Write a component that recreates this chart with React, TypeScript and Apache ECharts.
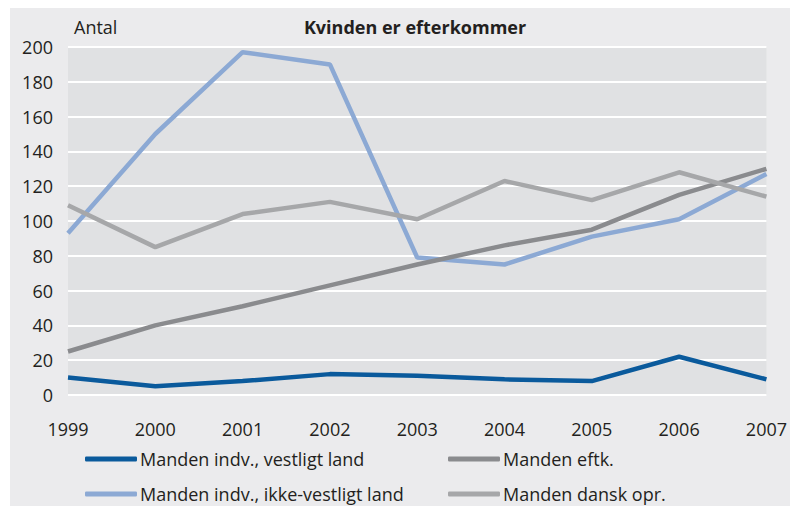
import React, { useEffect, useRef } from "react";
import * as echarts from "echarts";

const years = ["1999", "2000", "2001", "2002", "2003", "2004", "2005", "2006", "2007"];
const seriesNames = [
  "Manden indv., vestligt land",
  "Manden indv., ikke-vestligt land",
  "Manden eftk.",
  "Manden dansk opr.",
];
const vestligt = [10, 5, 8, 12, 11, 9, 8, 22, 9];
const ikkeVestligt = [93, 150, 197, 190, 79, 75, 91, 101, 127];
const efterkommer = [25, 40, 51, 63, 75, 86, 95, 115, 130];
const danskOpr = [109, 85, 104, 111, 101, 123, 112, 128, 114];
const colors = ["#0a5a9c", "#8ca9d4", "#8a8b8e", "#a6a7a9"];

const FONT = "Open Sans";
const TXT = "#231f20";
const FS = 18;

export default function App() {
  const ref = useRef<HTMLDivElement>(null);
  useEffect(() => {
    if (!ref.current) return;
    const chart = echarts.init(ref.current, undefined, { renderer: "svg" });
    const values = [vestligt, ikkeVestligt, efterkommer, danskOpr];
    const legendBase = {
      orient: "vertical" as const,
      top: 448,
      height: 80,
      padding: 0,
      itemWidth: 52,
      itemHeight: 5,
      itemGap: 13,
      icon: "roundRect",
      textStyle: { fontFamily: FONT, fontSize: FS, color: TXT, lineHeight: 22, padding: [0, 0, 0, -2] },
    };
    chart.setOption({
      animation: false,
      backgroundColor: "transparent",
      graphic: [
        { type: "rect", left: 10, top: 8, z: -10, shape: { width: 780, height: 498 }, style: { fill: "#ebebed" } },
        {
          type: "text",
          left: 74,
          top: 18,
          style: { text: "Antal", fontFamily: FONT, fontSize: FS, fill: TXT },
        },
      ],
      title: {
        text: "Kvinden er efterkommer",
        left: 410,
        textAlign: "center",
        top: 13,
        textStyle: { fontFamily: FONT, fontSize: FS, fontWeight: "bold", color: TXT },
      },
      grid: { left: 68, right: 23, top: 47, bottom: 111, show: true, backgroundColor: "#e0e1e3", borderWidth: 0 },
      legend: [
        { ...legendBase, left: 85, data: [seriesNames[0], seriesNames[1]] },
        { ...legendBase, left: 448, data: [seriesNames[2], seriesNames[3]] },
      ],
      xAxis: {
        type: "category",
        data: years,
        boundaryGap: false,
        axisLine: { show: false },
        axisTick: { show: false },
        axisLabel: { margin: 25, fontFamily: FONT, fontSize: FS, color: TXT },
      },
      yAxis: {
        type: "value",
        min: 0,
        max: 200,
        interval: 20,
        axisLine: { show: false },
        axisTick: { show: false },
        splitLine: { lineStyle: { color: "#ffffff", width: 2 } },
        axisLabel: { margin: 15, fontFamily: FONT, fontSize: FS, color: TXT },
      },
      series: seriesNames.map((name, i) => ({
        name,
        type: "line",
        data: values[i],
        symbol: "none",
        color: colors[i],
        lineStyle: { width: 4.5, color: colors[i] },
        z: i === 0 ? 5 : 3,
      })),
    });
    return () => chart.dispose();
  }, []);
  return (
    <div style={{ position: "fixed", left: 0, top: 0, width: 790, height: 506, background: "#ffffff" }}>
      <div ref={ref} style={{ width: 790, height: 506 }} />
    </div>
  );
}
